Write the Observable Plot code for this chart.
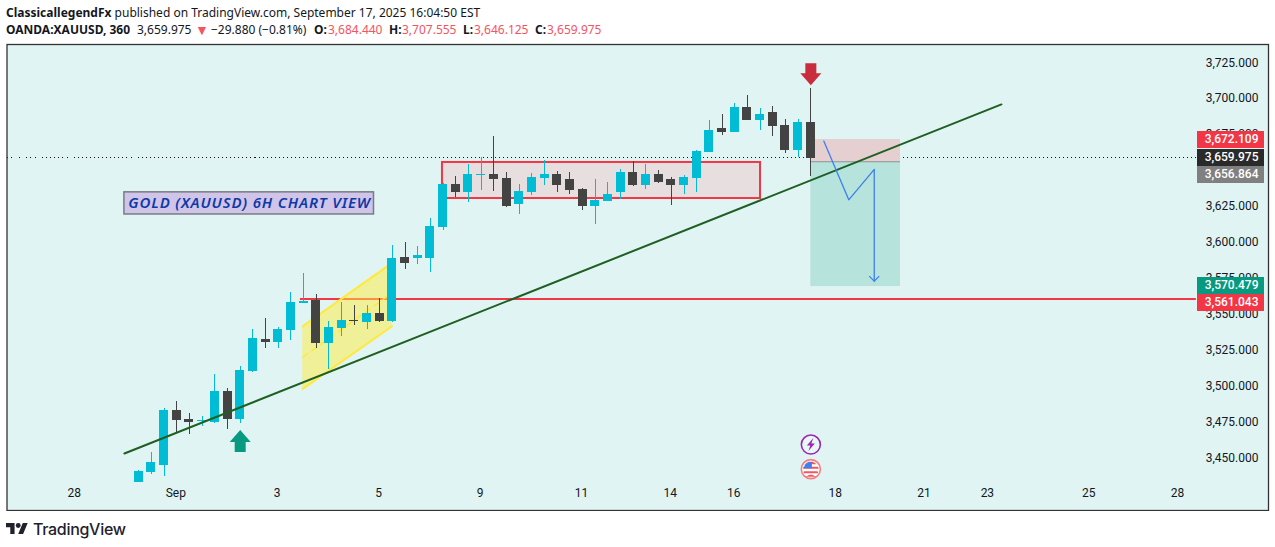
<!DOCTYPE html>
<html>
<head>
<meta charset="utf-8">
<script src="https://cdn.jsdelivr.net/npm/d3@7"></script>
<script src="https://cdn.jsdelivr.net/npm/@observablehq/plot@0.6"></script>
<style>
html,body{margin:0;padding:0;background:#fff;width:1275px;height:547px;overflow:hidden;font-family:"Noto Sans",sans-serif;color:#131722}
#head{position:relative;height:43px;font-size:12px}
#head span{position:absolute;white-space:nowrap;line-height:16px}
#head b{font-weight:700}
.r{color:#f7525f}
#chart svg{display:block}
.gold text{letter-spacing:.85px}
#foot{position:relative;height:36px}
#foot svg{position:absolute;left:6px;top:11px}
#foot span{position:absolute;left:33px;top:8px;font-size:16px;font-weight:500;font-family:Inter,Roboto,sans-serif;letter-spacing:-.3px;color:#1e222d}
</style>
</head>
<body>
<div id="head">
<span style="left:6px;top:5px"><b>ClassicallegendFx</b> published on TradingView.com, September 17, 2025 16:04:50 EST</span>
<span style="left:6px;top:22px"><b>OANDA:XAUUSD, 360</b></span>
<span style="left:137px;top:22px">3,659.975</span>
<span class="r" style="left:195px;top:22px;font-size:14px">▼</span>
<span style="left:211px;top:22px">−29.880 (−0.81%)</span>
<span style="left:314px;top:22px"><b>O:</b></span><span class="r" style="left:328px;top:22px">3,684.440</span>
<span style="left:389px;top:22px"><b>H:</b></span><span class="r" style="left:402px;top:22px">3,707.555</span>
<span style="left:463px;top:22px"><b>L:</b></span><span class="r" style="left:474px;top:22px">3,646.125</span>
<span style="left:535px;top:22px"><b>C:</b></span><span class="r" style="left:547px;top:22px">3,659.975</span>
</div>
<div id="chart"></div>
<div id="foot">
<svg width="22" height="13" viewBox="0 3 36 20"><path fill="#1e222d" d="M14 22H7V11H0V4h14v18zM28 22h-8l7.5-18h8L28 22z"/><circle fill="#1e222d" cx="20" cy="8" r="4"/></svg>
<span>TradingView</span>
</div>
<script>
const opens = [3432.8,3439.6,3444.4,3482.7,3476.5,3474.9,3474.4,3495.9,3476.5,3509.9,3532.2,3530,3538.4,3557.2,3559.3,3529.4,3539.8,3545.6,3544,3550.3,3544.7,3589.2,3588.5,3588.5,3610.1,3640,3634.5,3646.1,3647,3644.2,3626.1,3634.5,3644.2,3647,3643.5,3636.6,3624.7,3628.2,3634.5,3648.4,3639.4,3647,3643.5,3639.4,3644.2,3662.3,3679,3676.3,3693.7,3684.6,3690.2,3681.1,3663.7,3683.2];
const closes = [3440.3,3446.5,3482.7,3475.8,3474.4,3475.9,3495.9,3476.5,3510.6,3532.8,3530,3539.1,3557.9,3558.6,3529.4,3540.5,3545.4,3544.5,3550.3,3544.7,3588.5,3585,3590.6,3610.8,3640,3634.5,3647,3647,3643.5,3624.7,3635.2,3644.9,3647,3639.4,3635.9,3624.7,3628.9,3633.1,3648.4,3639.4,3647,3641.5,3639.4,3644.9,3663,3677.7,3676.3,3693.7,3684.6,3688.8,3680.4,3663.7,3683.2,3658.4];
const highs = [3441,3453.5,3484.1,3489,3480.6,3478.5,3507.8,3498,3513.4,3539.1,3546.8,3540.5,3564.9,3578.1,3563.5,3544.7,3557.9,3555.8,3555.8,3560.7,3597.6,3599.7,3597,3616.4,3640.7,3645.6,3654,3658.9,3673.5,3648.4,3640,3647.7,3656.8,3649.1,3648.4,3637.3,3643.5,3641.5,3650.5,3656.1,3654,3649.8,3644.9,3646.3,3663.7,3684.6,3688.8,3696.5,3702,3693,3694.4,3685.3,3685.3,3706.9];
const lows = [3432.8,3438.2,3436.8,3467.4,3466,3471.6,3473.7,3469.5,3473.7,3509.2,3525.9,3525.9,3531.5,3557.2,3525.9,3511.3,3534.2,3541.9,3539.1,3544,3544,3580.9,3584.4,3578.8,3608,3631,3627.5,3635.9,3635.2,3624,3619.2,3632.4,3639.4,3634.5,3633.1,3622,3612.2,3628,3629.6,3638.7,3636.6,3640.8,3625.4,3633.1,3634.5,3662,3674.2,3676,3684.6,3677.7,3673.5,3661.6,3658.9,3645.6];

const yTicks = [3725,3700,3675,3625,3600,3575,3550,3525,3500,3475,3450];
const xTickIdx = [-5,3,11,19,27,35,42,47,55,62,67,75,82];
const xTickText = ["28","Sep","3","5","9","11","14","16","18","21","23","25","28"];

const trendLine = [{x:-1.13,y:3452.8},{x:68.03,y:3695.8}];
const supportLevel = 3560.4, lastLevel = 3658.7;
const rangeBox = {x1:23.95,x2:49.03,y1:3630.3,y2:3655.4};
const channel = [{x:12.93,top:3541.4,bottom:3497.8},{x:19.98,top:3585.5,bottom:3541.4}];
const channelMid = [{x:12.93,y:3519.8},{x:19.7,y:3562.8}];
const stopZone = {x1:53,x2:60.07,y1:3655.9,y2:3671.4};
const targetZone = {x1:53,x2:60.07,y1:3569,y2:3655.9};
const swingPath = [{x:54.02,y:3670.3},{x:55.99,y:3629.4},{x:58,y:3650.6},{x:58,y:3572.8}];

const tagText = ["3,672.109","3,659.975","3,656.864","3,570.479","3,561.043"];
const tagTop = [3677,3664.4,3652.6,3575.3,3563.5];
const tagBottom = [3665.3,3652.6,3641,3563.5,3551.9];
const tagMid = [3671.6,3658.8,3647.1,3569.7,3558];
const tagFill = ["#f23645","#2a2a2a","#808080","#089981","#f23645"];

const candles = opens.map((o,i)=>({i,o,c:closes[i],h:highs[i],l:lows[i],col:closes[i]>=o?"#00bcd4":"#434343"}));
const tags = tagText.map((t,i)=>({t,top:tagTop[i],bottom:tagBottom[i],mid:tagMid[i],fill:tagFill[i]}));

const poly = pts => ({draw(ctx){pts.forEach((p,k)=>k?ctx.lineTo(p[0],p[1]):ctx.moveTo(p[0],p[1]));ctx.closePath();}});
const arrowUp = poly([[0,-11],[10.5,1],[5.5,1],[5.5,11],[-5.5,11],[-5.5,1],[-10.5,1]]);
const arrowDown = poly([[0,11],[10.5,-1],[5.5,-1],[5.5,-11],[-5.5,-11],[-5.5,-1],[-10.5,-1]]);
const bolt = poly([[2.5,-6.5],[-4,1],[-0.5,1],[-2.5,6.5],[4,-1],[0.5,-1]]);
const tip = {draw(ctx){ctx.moveTo(-5,-5);ctx.lineTo(0,0);ctx.lineTo(5,-5);}};
const disc = R => ({draw(ctx){ctx.moveTo(R,0);ctx.arc(0,0,R,0,2*Math.PI);ctx.closePath();}});
const band = (y0,y1,R) => ({draw(ctx){const h=Math.sqrt(R*R-Math.min(y0*y0,y1*y1));const m=Math.sqrt(Math.max(0,R*R-Math.max(y0*y0,y1*y1)));
  ctx.moveTo(-m,y0);ctx.lineTo(m,y0);ctx.lineTo(h,y1);ctx.lineTo(-h,y1);ctx.closePath();}});
const canton = poly([[-7,-2],[-5.5,-5],[-2.5,-7],[1,-7.3],[1,-1],[-7,-1]]);

const eventPts = {bolt:[{x:53,y:3459}],flag:[{x:53,y:3441.9}]};
const arrowPts = {up:[{x:8,y:3461.4}],down:[{x:53,y:3716.9}]};

const chart = Plot.plot({
  width:1275,height:468,marginLeft:6.5,marginRight:7,marginTop:1,marginBottom:1,
  style:{fontFamily:"Roboto,sans-serif",fontSize:"12px",background:"transparent",color:"#131722"},
  x:{domain:[-10.39,89.09],axis:null},
  y:{domain:[3413.1,3737.53],axis:null},
  marks:[
    Plot.frame({fill:"#e1f4f4",stroke:"none"}),
    Plot.axisY(yTicks,{anchor:"right",tickSize:0,tickPadding:0,dx:-10,dy:0.2,textAnchor:"end",tickFormat:d=>d3.format(",.3f")(d),label:null,fill:"#131722",fontSize:12}),
    Plot.axisX(xTickIdx,{anchor:"bottom",tickSize:0,tickPadding:0,dx:-1,dy:-22,tickFormat:d=>xTickText[xTickIdx.indexOf(d)],label:null,fill:"#131722",fontSize:12}),
    Plot.ruleY([lastLevel],{x1:-10.39,x2:83.4,stroke:"#111",strokeWidth:1,strokeDasharray:"1,3",shapeRendering:"crispEdges"}),
    Plot.ruleY([supportLevel],{x1:12.75,x2:83.4,stroke:"#f23645",strokeWidth:2}),
    Plot.areaY(channel,{x:"x",y1:"bottom",y2:"top",fill:"#ffeb3b",fillOpacity:0.5}),
    Plot.line(channel,{x:"x",y:"top",stroke:"#ffe93b",strokeWidth:2}),
    Plot.line(channel,{x:"x",y:"bottom",stroke:"#ffe93b",strokeWidth:2}),
    Plot.line(channelMid,{x:"x",y:"y",stroke:"#ffe93b",strokeWidth:1.5,strokeDasharray:"6,5"}),
    Plot.rect([rangeBox],{x1:"x1",x2:"x2",y1:"y1",y2:"y2",fill:"#e7dfdf",stroke:"#f23645",strokeWidth:2}),
    Plot.rect([targetZone],{x1:"x1",x2:"x2",y1:"y1",y2:"y2",fill:"#b7e3dd"}),
    Plot.rect([stopZone],{x1:"x1",x2:"x2",y1:"y1",y2:"y2",fill:"#e6cfd1"}),
    Plot.ruleY([stopZone.y1],{x1:stopZone.x1,x2:stopZone.x2,stroke:"#8f8f8f",strokeWidth:1.2}),
    Plot.ruleX(candles,{x:"i",y1:"l",y2:"h",stroke:"col",strokeWidth:1,shapeRendering:"crispEdges"}),
    Plot.rect(candles,{x1:d=>d.i-0.355,x2:d=>d.i+0.355,y1:"o",y2:"c",fill:"col",shapeRendering:"crispEdges"}),
    Plot.line(trendLine,{x:"x",y:"y",stroke:"#1e5f22",strokeWidth:2}),
    Plot.line(swingPath,{x:"x",y:"y",stroke:"#3d7fee",strokeWidth:1.3}),
    Plot.dot(swingPath.slice(-1),{x:"x",y:"y",symbol:tip,r:1,fill:"none",stroke:"#3d7fee",strokeWidth:1.3}),
    Plot.dot(arrowPts.up,{x:"x",y:"y",symbol:arrowUp,r:1,fill:"#089981",stroke:"none"}),
    Plot.dot(arrowPts.down,{x:"x",y:"y",symbol:arrowDown,r:1,fill:"#c92c3c",stroke:"none"}),
    Plot.dot(eventPts.bolt,{x:"x",y:"y",symbol:disc(9.5),r:1,fill:"#fff",fillOpacity:.25,stroke:"#9c27b0",strokeWidth:1.6}),
    Plot.dot(eventPts.bolt,{x:"x",y:"y",symbol:bolt,r:1,fill:"#9c27b0",stroke:"none"}),
    Plot.dot(eventPts.flag,{x:"x",y:"y",symbol:disc(9.5),r:1,fill:"#fff",stroke:"#f77c80",strokeWidth:1.6}),
    Plot.dot(eventPts.flag,{x:"x",y:"y",symbol:band(-7.5,-5,7.8),r:1,fill:"#f0575f",stroke:"none"}),
    Plot.dot(eventPts.flag,{x:"x",y:"y",symbol:band(-2.5,-0.5,7.8),r:1,fill:"#f0575f",stroke:"none"}),
    Plot.dot(eventPts.flag,{x:"x",y:"y",symbol:band(2,4,7.8),r:1,fill:"#f0575f",stroke:"none"}),
    Plot.dot(eventPts.flag,{x:"x",y:"y",symbol:band(5.5,7.7,7.8),r:1,fill:"#f0575f",stroke:"none"}),
    Plot.dot(eventPts.flag,{x:"x",y:"y",symbol:canton,r:1,fill:"#3f7ff0",stroke:"none"}),
    Plot.rect([{x1:-1.13,x2:18.55,y1:3619.2,y2:3634.6}],{x1:"x1",x2:"x2",y1:"y1",y2:"y2",fill:"#d1c4e9",stroke:"#787b86",strokeWidth:1.5}),
    Plot.text(["GOLD (XAUUSD) 6H CHART VIEW"],{x:8.74,y:3626.9,text:d=>d,fill:"#0d3aa6",fontSize:15,fontWeight:600,fontStyle:"italic",fontFamily:"'Noto Sans',sans-serif",className:"gold"}),
    Plot.rect(tags,{x1:83.5,x2:88.75,y1:"bottom",y2:"top",fill:"fill",shapeRendering:"crispEdges"}),
    Plot.text(tags,{x:88.3,y:"mid",text:"t",textAnchor:"end",fill:"#fff",fontSize:12,fontWeight:500}),
    Plot.frame({stroke:"#333",strokeWidth:1.3,fill:"none"})
  ]
});
document.getElementById("chart").appendChild(chart);
</script>
</body>
</html>
